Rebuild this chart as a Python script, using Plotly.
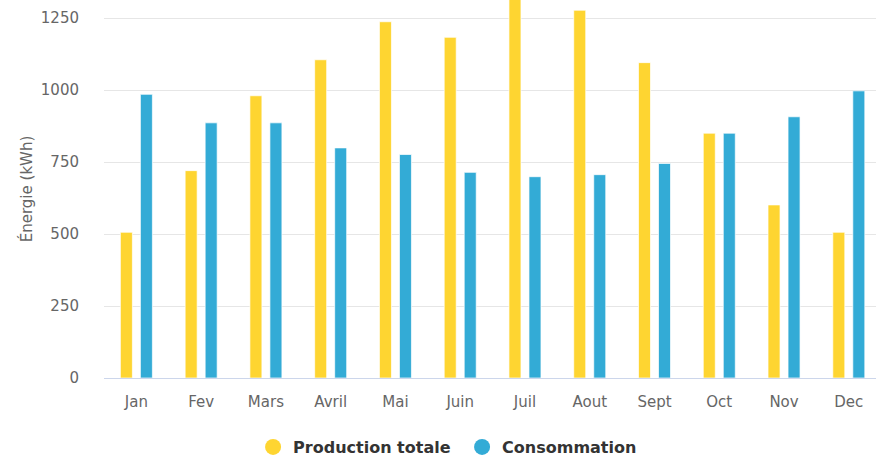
import plotly.graph_objects as go

months = ["Jan", "Fev", "Mars", "Avril", "Mai", "Juin", "Juil", "Aout", "Sept", "Oct", "Nov", "Dec"]
production = [506, 720, 980, 1105, 1237, 1183, 1340, 1277, 1095, 850, 601, 506]
consommation = [985, 886, 886, 799, 776, 714, 699, 706, 745, 850, 907, 997]
y_ticks = [0, 250, 500, 750, 1000, 1250]

YELLOW = "#FED531"
BLUE = "#33ABD6"
FONT = "DejaVu Sans"

fig = go.Figure()
fig.add_trace(go.Bar(x=months, y=production, name="Production totale",
                     marker=dict(color=YELLOW, line=dict(color="rgba(255,255,255,0.7)", width=1)),
                     showlegend=False))
fig.add_trace(go.Bar(x=months, y=consommation, name="Consommation",
                     marker=dict(color=BLUE, line=dict(color="rgba(255,255,255,0.7)", width=1)),
                     showlegend=False))
# legend entries with circle symbols
fig.add_trace(go.Scatter(x=[None], y=[None], mode="markers", name="Production totale",
                         marker=dict(color=YELLOW, size=16, symbol="circle")))
fig.add_trace(go.Scatter(x=[None], y=[None], mode="markers", name="Consommation",
                         marker=dict(color=BLUE, size=16, symbol="circle")))

fig.update_layout(
    width=876, height=459,
    margin=dict(l=104, r=0, t=0, b=81, autoexpand=False),
    paper_bgcolor="white", plot_bgcolor="white",
    barmode="group", bargap=0.382, bargroupgap=0.4,
    font=dict(family=FONT, size=15, color="#666666"),
    showlegend=True,
    legend=dict(orientation="h", xref="container", yref="container",
                x=0.5275, xanchor="center", y=0.026, yanchor="middle",
                entrywidth=164, entrywidthmode="pixels",
                font=dict(family=FONT, size=16, color="#333333", weight="bold"),
                itemsizing="trace", traceorder="normal"),
    xaxis=dict(range=[-0.5, 11.42], showgrid=False, showline=True, linecolor="#ccd6eb",
               linewidth=1, ticks="", ticklabelstandoff=10, automargin=False,
               tickfont=dict(family=FONT, size=15, color="#666666")),
    yaxis=dict(range=[0, 1312.5], tickvals=y_ticks, showgrid=True, gridcolor="#e6e6e6",
               gridwidth=1, zeroline=False, showline=False, ticks="", ticklabelstandoff=24,
               automargin=False,
               tickfont=dict(family=FONT, size=15, color="#666666"),
               title=dict(text="Énergie (kWh)", standoff=4,
                          font=dict(family=FONT, size=15, color="#666666"))),
)

fig.write_html("out.html", config={"displayModeBar": False},
               post_script="document.body.style.margin='0px';")
